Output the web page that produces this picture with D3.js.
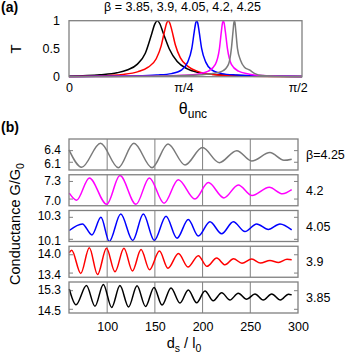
<!DOCTYPE html>
<html>
<head>
<meta charset="utf-8">
<script src="https://cdn.jsdelivr.net/npm/d3@7"></script>
<style>
body { margin: 0; background: #fff; }
text { font-family: "Liberation Sans", Arial, sans-serif; fill: #000; }
</style>
</head>
<body>
<div id="canvas"></div>
<script>
// ----------------------------------------------------------
// DATA -----------------------------------------------------
// ----------------------------------------------------------
var beta_labels = ["β=4.25", "4.2", "4.05", "3.9", "3.85"];

// panel (a): transmission T vs theta_unc  [theta, T]
var trans_385 = [[0,0.01],[0.213,0.035],[0.330,0.07],[0.399,0.12],[0.468,0.22],[0.524,0.42],[0.565,0.74],[0.589,0.94],[0.606,1.0],[0.623,0.95],[0.647,0.78],[0.688,0.5],[0.743,0.27],[0.812,0.14],[0.881,0.08],[1.019,0.035],[1.294,0.013],[1.600,0.004]];
var trans_39 = [[0,0.005],[0.200,0.013],[0.372,0.04],[0.475,0.09],[0.544,0.17],[0.599,0.32],[0.633,0.55],[0.654,0.79],[0.671,0.96],[0.681,1.0],[0.692,0.96],[0.709,0.8],[0.730,0.57],[0.764,0.34],[0.819,0.18],[0.888,0.09],[0.991,0.04],[1.163,0.014],[1.600,0.003]];
var trans_405 = [[0,0.002],[0.189,0.006],[0.464,0.015],[0.602,0.03],[0.705,0.055],[0.774,0.12],[0.815,0.26],[0.843,0.5],[0.860,0.8],[0.870,0.96],[0.877,1.0],[0.884,0.96],[0.894,0.8],[0.911,0.5],[0.939,0.26],[0.980,0.12],[1.049,0.055],[1.152,0.03],[1.290,0.015],[1.600,0.004]];
var trans_42 = [[0,0.001],[0.234,0.004],[0.578,0.01],[0.785,0.025],[0.888,0.05],[0.957,0.1],[1.005,0.22],[1.033,0.5],[1.046,0.8],[1.054,0.96],[1.060,1.0],[1.065,0.96],[1.074,0.8],[1.088,0.5],[1.115,0.22],[1.163,0.1],[1.232,0.05],[1.335,0.02],[1.473,0.008],[1.600,0.004]];
var trans_425 = [[0,0.001],[0.241,0.004],[0.585,0.01],[0.826,0.025],[0.964,0.05],[1.053,0.1],[1.095,0.22],[1.115,0.5],[1.126,0.8],[1.132,0.96],[1.136,1.0],[1.140,0.96],[1.146,0.8],[1.157,0.5],[1.177,0.3],[1.205,0.17],[1.239,0.12],[1.273,0.06],[1.328,0.02],[1.445,0.008],[1.600,0.002]];

// panel (b): conductance G/G0 vs d_s/l_0  [d, G]
var cond_425 = [[60,6.42],[73.3,5.97],[93,6.59],[111.7,5.96],[128,6.59],[147,5.96],[163.8,6.57],[181.6,6.03],[199.9,6.48],[217.5,6.09],[235.8,6.40],[251.5,6.13],[270.6,6.35],[285.3,6.15],[293.4,6.18]];
var cond_42 = [[60.3,7.10],[68,6.98],[81.3,7.36],[99.5,6.91],[113.4,7.40],[130.2,6.91],[144.2,7.36],[159.6,6.93],[174.5,7.33],[192,7.00],[206,7.28],[222.4,7.02],[237.4,7.24],[251.8,7.06],[269.9,7.20],[283.7,7.09],[293.4,7.16]];
var cond_405 = [[60.3,10.18],[74,10.24],[84.1,10.14],[93.5,10.30],[102.2,10.08],[114.2,10.33],[126.8,10.09],[137.9,10.33],[149.4,10.09],[161.7,10.31],[173.2,10.11],[185,10.28],[195.5,10.13],[207.7,10.26],[220,10.15],[232.2,10.26],[244.4,10.17],[256.7,10.24],[268.9,10.19],[281.1,10.24],[293.4,10.185]];
var cond_39 = [[60.3,14.07],[62.8,14.15],[72.3,13.39],[81.3,14.23],[89.9,13.35],[99.3,14.21],[108.2,13.44],[117.6,14.21],[126.5,13.47],[135.5,14.17],[144.4,13.51],[154.8,14.12],[163.7,13.56],[174.7,14.04],[184.7,13.60],[195.5,13.97],[204.6,13.62],[214.8,13.89],[223.5,13.67],[232.4,13.87],[241.3,13.72],[251.5,13.86],[260.7,13.73],[270.6,13.81],[279.6,13.75],[288.5,13.85],[293.4,13.84]];
var cond_385 = [[60.3,15.37],[67.3,14.69],[78.3,15.52],[87.2,14.63],[96,15.57],[104.7,14.58],[113.4,15.52],[122.4,14.60],[131.3,15.51],[140.2,14.62],[149.1,15.44],[157.5,14.68],[166.9,15.42],[176.3,14.77],[185,15.33],[193.8,14.78],[202.5,15.29],[211.2,14.87],[220,15.21],[228.7,14.90],[237.4,15.19],[246.2,14.93],[254.9,15.16],[263.6,14.90],[272.4,15.16],[281.6,14.90],[290,15.15],[293.4,15.12]];

// tick values / labels
var ticks_a_y = [0, 0.5, 1];
var ticks_a_y_labels = ["0", "0.5", "1"];
var ticks_a_x = [0, Math.PI / 4, Math.PI / 2];
var ticks_a_x_labels = ["0", "π/4", "π/2"];
var ticks_b_x = [100, 150, 200, 250, 300];
var ticks_b_y = [[6.1, 6.4], [7.0, 7.3], [10.1, 10.3], [13.4, 14.0], [14.5, 15.3]];
var domains_b_y = [[5.90, 6.70], [6.886, 7.414], [10.08, 10.362], [13.263, 14.279], [14.34, 15.674]];

// ----------------------------------------------------------
// SETTINGS -------------------------------------------------
// ----------------------------------------------------------
var set = {
  width: 349, height: 353,
  a_left: 69, a_right: 302, a_top: 20.7, a_bottom: 76.7,
  b_left: 69, b_right: 298, b_top: 139, b_pitch: 35.75, b_height: 31,
  color_frame: "#808080",
  colors_a: ["#000000", "#ff0000", "#0000ff", "#ff00ff", "#7a7a7a"],
  colors_b: ["#7a7a7a", "#ff00ff", "#0000ff", "#ff0000", "#000000"]
};

var svg = d3.select("#canvas").append("svg")
  .attr("width", set.width)
  .attr("height", set.height);

// ----------------------------------------------------------
// PANEL (a) ------------------------------------------------
// ----------------------------------------------------------
var xa = d3.scaleLinear().domain([0, 1.6]).range([set.a_left, set.a_right]);
var ya = d3.scaleLinear().domain([0, 1]).range([set.a_bottom, set.a_top]);

var line_a = d3.line()
  .x(function(d) { return xa(d[0]); })
  .y(function(d) { return ya(d[1]); })
  .curve(d3.curveMonotoneX);

var gA = svg.append("g");
[trans_385, trans_39, trans_405, trans_42, trans_425].forEach(function(s, i) {
  gA.append("path")
    .attr("d", line_a(s))
    .attr("fill", "none")
    .attr("stroke", set.colors_a[i])
    .attr("stroke-width", 1.5);
});

gA.append("rect")
  .attr("x", set.a_left).attr("y", set.a_top)
  .attr("width", set.a_right - set.a_left)
  .attr("height", set.a_bottom - set.a_top)
  .attr("fill", "none")
  .attr("stroke", set.color_frame)
  .attr("stroke-width", 1.3);

var axA_y = gA.append("g")
  .attr("transform", "translate(" + set.a_left + ",0)")
  .call(d3.axisLeft(ya).tickValues(ticks_a_y).tickSize(0).tickPadding(9)
    .tickFormat(function(d, i) { return ticks_a_y_labels[i]; }));
var axA_x = gA.append("g")
  .attr("transform", "translate(0," + set.a_bottom + ")")
  .call(d3.axisBottom(xa).tickValues(ticks_a_x).tickSize(0).tickPadding(6)
    .tickFormat(function(d, i) { return ticks_a_x_labels[i]; }));
[axA_y, axA_x].forEach(function(ax) {
  ax.select(".domain").remove();
  ax.selectAll("text").style("font-size", "12.5px").style("font-family", "Liberation Sans, Arial, sans-serif");
});

// ----------------------------------------------------------
// PANEL (b) ------------------------------------------------
// ----------------------------------------------------------
var xb = d3.scaleLinear().domain([60, 300]).range([set.b_left, set.b_right]);
var gB = svg.append("g");
var cond_all = [cond_425, cond_42, cond_405, cond_39, cond_385];

cond_all.forEach(function(s, i) {
  var top = set.b_top + i * set.b_pitch;
  var bottom = top + set.b_height;
  var yb = d3.scaleLinear().domain(domains_b_y[i]).range([bottom, top]);
  var g = gB.append("g");

  // vertical grid lines
  g.selectAll(".grid").data(ticks_b_x.slice(0, 4)).enter().append("line")
    .attr("x1", function(d) { return xb(d); })
    .attr("x2", function(d) { return xb(d); })
    .attr("y1", top).attr("y2", bottom)
    .attr("stroke", set.color_frame).attr("stroke-width", 1);

  // inward ticks left & right
  ticks_b_y[i].forEach(function(t) {
    g.append("line").attr("x1", set.b_left).attr("x2", set.b_left + 4)
      .attr("y1", yb(t)).attr("y2", yb(t)).attr("stroke", set.color_frame);
    g.append("line").attr("x1", set.b_right - 4).attr("x2", set.b_right)
      .attr("y1", yb(t)).attr("y2", yb(t)).attr("stroke", set.color_frame);
  });

  var line_b = d3.line()
    .x(function(d) { return xb(d[0]); })
    .y(function(d) { return yb(d[1]); })
    .curve(d3.curveMonotoneX);

  g.append("path")
    .attr("d", line_b(s))
    .attr("fill", "none")
    .attr("stroke", set.colors_b[i])
    .attr("stroke-width", 1.5);

  g.append("rect")
    .attr("x", set.b_left).attr("y", top)
    .attr("width", set.b_right - set.b_left)
    .attr("height", set.b_height)
    .attr("fill", "none")
    .attr("stroke", set.color_frame)
    .attr("stroke-width", 1.3);

  var ax = g.append("g")
    .attr("transform", "translate(" + set.b_left + ",0)")
    .call(d3.axisLeft(yb).tickValues(ticks_b_y[i]).tickSize(0).tickPadding(8)
      .tickFormat(d3.format(".1f")));
  ax.select(".domain").remove();
  // nudge the two close labels slightly apart
  ax.selectAll("text")
    .style("font-size", "12px")
    .style("font-family", "Liberation Sans, Arial, sans-serif")
    .attr("dy", function(d, j) { return j === 0 ? "0.44em" : "0.22em"; });

  // beta label on the right
  g.append("text")
    .attr("x", 306)
    .attr("y", (top + bottom) / 2)
    .attr("dy", "0.36em")
    .style("font-size", "12.5px")
    .text(beta_labels[i]);
});

var last_bottom = set.b_top + 4 * set.b_pitch + set.b_height;
var axB_x = gB.append("g")
  .attr("transform", "translate(0," + last_bottom + ")")
  .call(d3.axisBottom(xb).tickValues(ticks_b_x).tickSize(0).tickPadding(9));
axB_x.select(".domain").remove();
axB_x.selectAll("text").style("font-size", "12.5px").style("font-family", "Liberation Sans, Arial, sans-serif");

// ----------------------------------------------------------
// TEXT -----------------------------------------------------
// ----------------------------------------------------------
svg.append("text").attr("x", 1).attr("y", 12)
  .style("font-size", "14px").style("font-weight", "bold").text("(a)");
svg.append("text").attr("x", 1).attr("y", 132)
  .style("font-size", "14px").style("font-weight", "bold").text("(b)");

svg.append("text").attr("x", 182.5).attr("y", 10.5)
  .attr("text-anchor", "middle").style("font-size", "12.5px")
  .text("β = 3.85, 3.9, 4.05, 4.2, 4.25");

svg.append("text")
  .attr("transform", "translate(20.5,49) rotate(-90)")
  .attr("text-anchor", "middle").style("font-size", "15px").text("T");

var xla = svg.append("text").attr("x", 193).attr("y", 114)
  .attr("text-anchor", "middle").style("font-size", "16px");
xla.append("tspan").text("θ");
xla.append("tspan").attr("dy", 4).style("font-size", "12px").text("unc");

var yl = svg.append("text")
  .attr("transform", "translate(20,224) rotate(-90)")
  .attr("text-anchor", "middle").style("font-size", "14.5px");
yl.append("tspan").text("Conductance G/G");
yl.append("tspan").attr("dy", 4).style("font-size", "10.5px").text("0");

var xlb = svg.append("text").attr("x", 184).attr("y", 348)
  .attr("text-anchor", "middle").style("font-size", "14.5px");
xlb.append("tspan").text("d");
xlb.append("tspan").attr("dy", 4).style("font-size", "10.5px").text("s");
xlb.append("tspan").attr("dy", -4).text(" / l");
xlb.append("tspan").attr("dy", 4).style("font-size", "10.5px").text("0");
</script>
</body>
</html>
